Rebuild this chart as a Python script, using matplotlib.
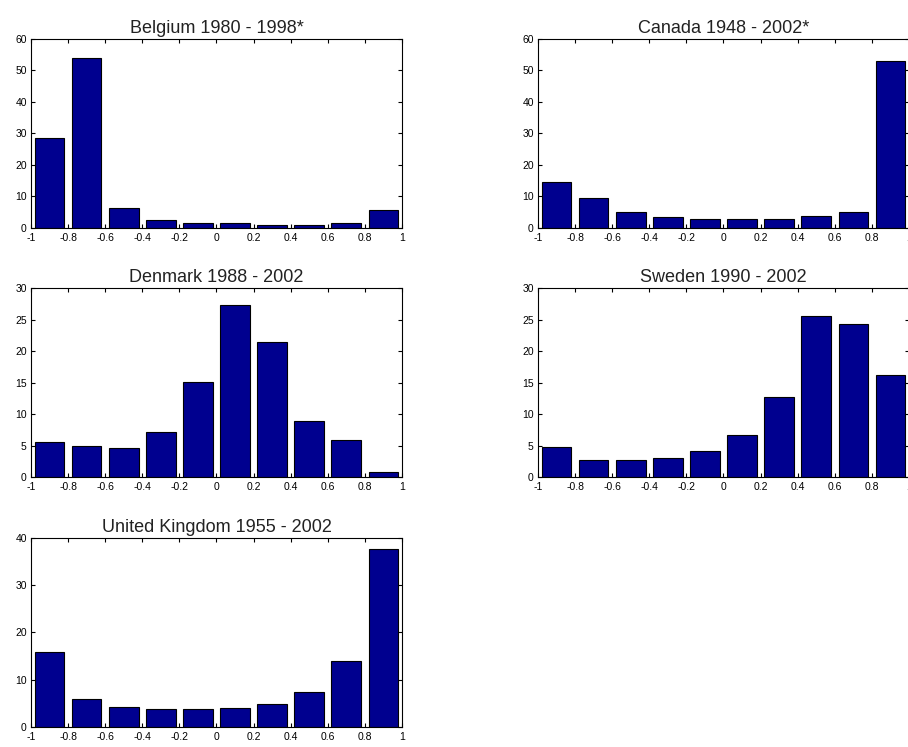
"""Histograms of correlation coefficients by country (MATLAB-style subplots)."""

import numpy as np
from matplotlib import pyplot as plt

# bin centres of the 10 histogram bins on [-1, 1]
bin_centers = [-0.9, -0.7, -0.5, -0.3, -0.1, 0.1, 0.3, 0.5, 0.7, 0.9]

belgium = [28.5, 53.9, 6.5, 2.4, 1.5, 1.5, 0.95, 0.95, 1.5, 5.6]
canada = [14.5, 9.4, 5.2, 3.4, 2.7, 2.7, 2.7, 3.8, 5.2, 52.9]
denmark = [5.6, 4.9, 4.65, 7.2, 15.1, 27.3, 21.4, 8.9, 5.9, 0.74]
sweden = [4.75, 2.7, 2.7, 2.96, 4.1, 6.65, 12.7, 25.5, 24.3, 16.2]
uk = [15.8, 5.9, 4.3, 3.75, 3.75, 4.0, 4.95, 7.4, 13.9, 37.6]

titles = [
    "Belgium 1980 - 1998*",
    "Canada 1948 - 2002*",
    "Denmark 1988 - 2002",
    "Sweden 1990 - 2002",
    "United Kingdom 1955 - 2002",
]
series = [belgium, canada, denmark, sweden, uk]
y_ticks = [
    list(range(0, 61, 10)),
    list(range(0, 61, 10)),
    list(range(0, 31, 5)),
    list(range(0, 31, 5)),
    list(range(0, 41, 10)),
]
x_ticks = [-1, -0.8, -0.6, -0.4, -0.2, 0, 0.2, 0.4, 0.6, 0.8, 1]
x_tick_labels = ["-1", "-0.8", "-0.6", "-0.4", "-0.2", "0", "0.2", "0.4", "0.6", "0.8", "1"]

plt.rcParams["font.family"] = ["Liberation Sans", "DejaVu Sans"]

fig = plt.figure(figsize=(9.08, 7.47), dpi=100)

col_left = [0.0341, 0.5925]
row_bottom = [0.6948, 0.3614, 0.0268]
ax_w, ax_h = 0.4086, 0.253

for i, (title, values, yt) in enumerate(zip(titles, series, y_ticks)):
    row, col = divmod(i, 2)
    ax = fig.add_axes([col_left[col], row_bottom[row], ax_w, ax_h])
    ax.bar(
        bin_centers,
        values,
        width=0.16,
        color="#00008F",
        edgecolor="black",
        linewidth=0.8,
    )
    ax.set_xlim(-1, 1)
    ax.set_ylim(yt[0], yt[-1])
    ax.set_xticks(x_ticks)
    ax.set_xticklabels(x_tick_labels)
    ax.set_yticks(yt)
    ax.tick_params(
        direction="in", length=3, width=0.8, labelsize=7.5,
        top=True, right=True,
    )
    ax.tick_params(axis="x", pad=3.5)
    ax.tick_params(axis="y", pad=3)
    for spine in ax.spines.values():
        spine.set_linewidth(0.8)
    ax.set_title(title, fontsize=13, pad=4, color="#222222")

fig.savefig("out.png", dpi=100)
